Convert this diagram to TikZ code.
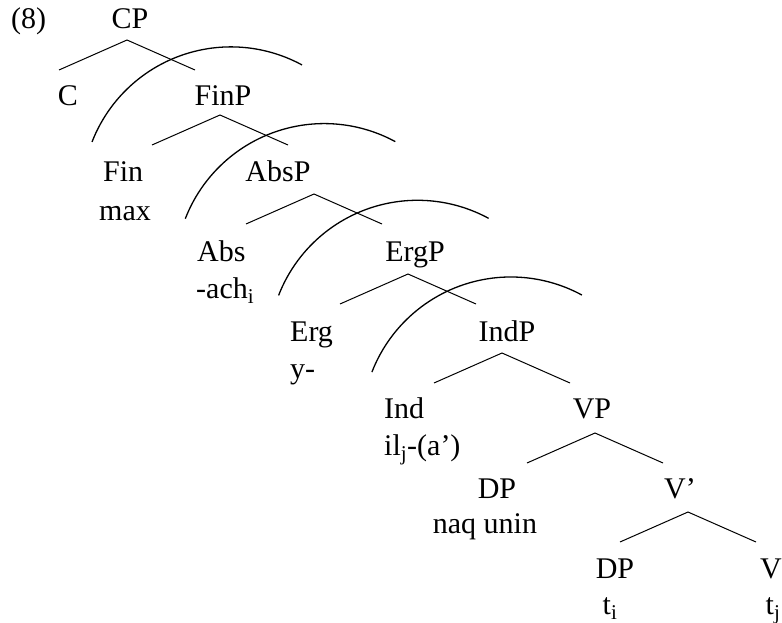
\documentclass[tikz,border=0pt]{standalone}
\usepackage{fontspec}
\setmainfont{Liberation Serif}
\begin{document}
\begin{tikzpicture}[x=1pt,y=-1pt,
  lbl/.style={anchor=base,inner sep=0pt,font=\fontsize{30}{36}\selectfont},
  lbll/.style={anchor=base west,inner sep=0pt,font=\fontsize{30}{36}\selectfont},
  branch/.style={line width=1pt},
  movearc/.style={line width=1.3pt}]
\useasboundingbox (0,0) rectangle (782,623);
% labels
\node[lbll] (ex) at (11,29) {(8)};
\node[lbl] (cp) at (130,29) {CP};
\node[lbl] (c) at (68,106) {C};
\node[lbl] (finp) at (223,106) {FinP};
\node[lbll] (fin) at (103,182) {Fin};
\node[lbll] (max) at (99,220) {max};
\node[lbl] (absp) at (278,182) {AbsP};
\node[lbll] (abs) at (197,261) {Abs};
\node[lbll] (ach) at (196,298) {-ach\textsubscript{i}};
\node[lbl] (ergp) at (415,261) {ErgP};
\node[lbll] (erg) at (290,341) {Erg};
\node[lbll] (yy) at (290,378) {y-};
\node[lbl] (indp) at (507,341) {IndP};
\node[lbll] (ind) at (384,418) {Ind};
\node[lbll] (il) at (384,455) {il\textsubscript{j}-(a’)};
\node[lbl] (vp) at (592,418) {VP};
\node[lbl] (dp1) at (497,498) {DP};
\node[lbl] (naq) at (485,533) {naq unin};
\node[lbl] (vbar) at (680,498) {V’};
\node[lbl] (dp2) at (615,578) {DP};
\node[lbl] (ti) at (610,614) {t\textsubscript{i}};
\node[lbl] (v) at (771,578) {V};
\node[lbl] (tj) at (773,614) {t\textsubscript{j}};
% branch points
\foreach \n/\ax/\ay in {cp/127/40, finp/220/115, absp/314/194, ergp/408/274, indp/502/353, vp/595/433, vbar/688/512}{
  \coordinate (\n-top) at (\ax,\ay);
  \coordinate (\n-l) at (\ax-68,\ay+30);
  \coordinate (\n-r) at (\ax+68,\ay+30);
  \draw[branch] (\n-l) -- (\n-top) -- (\n-r);
}
% movement arcs
\foreach \k in {0,1,2,3}{
  \coordinate (arc\k) at (92+93.3*\k,142+76.7*\k);
  \draw[movearc] (arc\k) arc[start angle=201.2,end angle=298.5,radius=149];
}
\end{tikzpicture}
\end{document}
